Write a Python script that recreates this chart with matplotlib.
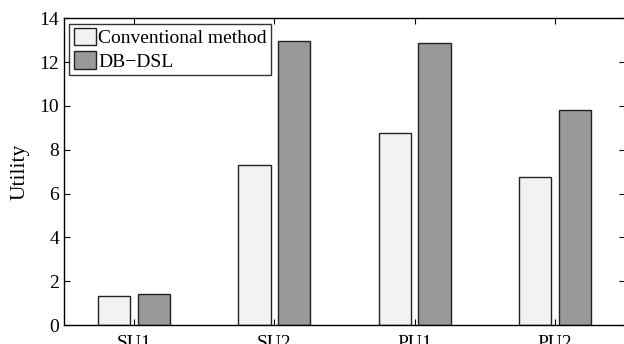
import numpy as np
import matplotlib
matplotlib.use("Agg")
import matplotlib.pyplot as plt

# data
users = ["SU1", "SU2", "PU1", "PU2"]
conventional = [1.31, 7.29, 8.75, 6.76]
db_dsl = [1.40, 12.98, 12.89, 9.80]

plt.rcParams['font.family'] = ['Liberation Serif', 'DejaVu Serif']

fig = plt.figure(figsize=(6.24, 3.44), dpi=100)
ax = fig.add_axes([0.1026, 0.0552, 0.899, 0.8916])

x = np.arange(1, len(users) + 1)
w = 0.23
off = 0.141
ax.bar(x - off, conventional, w, color='#f2f2f2', edgecolor='#222222', linewidth=1.0,
       label='Conventional method')
ax.bar(x + off, db_dsl, w, color='#999999', edgecolor='#222222', linewidth=1.0,
       label='DB\u2212DSL')

ax.set_xlim(0.5, 4.5)
ax.set_ylim(0, 14)
ax.set_yticks(np.arange(0, 15, 2))
ax.set_xticks(x)
ax.set_xticklabels(users)
ax.set_ylabel('Utility', fontsize=15.5, labelpad=7)
ax.tick_params(direction='in', top=True, right=True, labelsize=14, length=4, width=0.8)
ax.tick_params(axis='x', pad=7)
for s in ax.spines.values():
    s.set_linewidth(1.0)

leg = ax.legend(loc='upper left', fontsize=14, frameon=True, fancybox=False,
                edgecolor='black', borderpad=0.22, handlelength=1.15, handleheight=1.0,
                handletextpad=0.13, labelspacing=0.22, borderaxespad=0.27)
leg.get_frame().set_linewidth(1.0)

fig.savefig('out.png', dpi=100)
